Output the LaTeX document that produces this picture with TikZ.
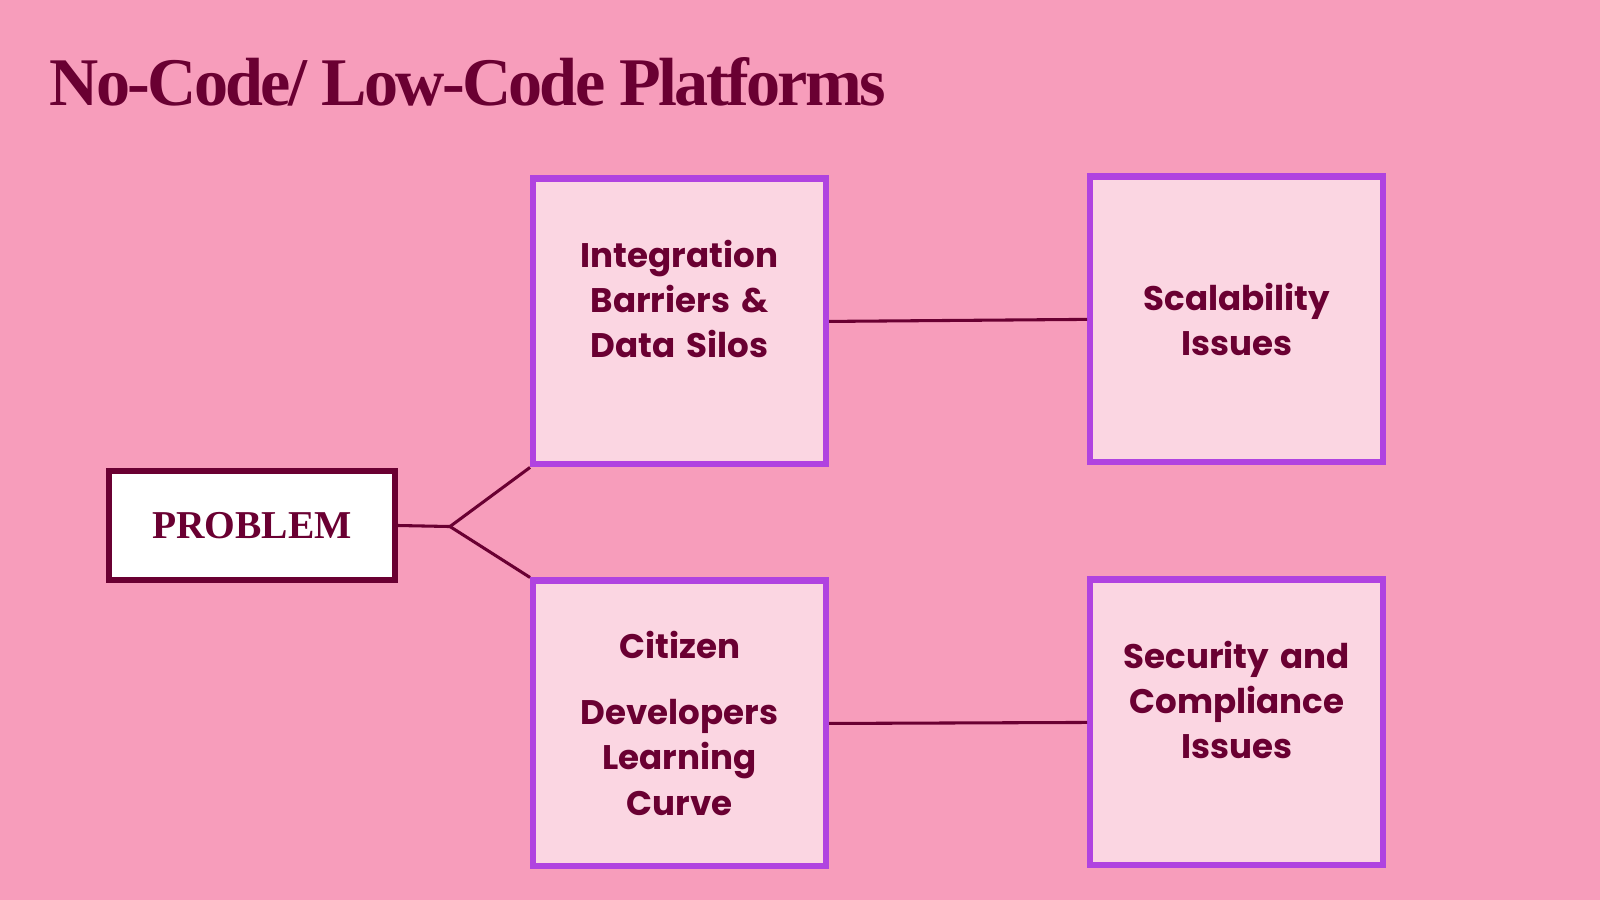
\documentclass[tikz,border=0pt]{standalone}
\usepackage{fontspec}
\setmainfont{Liberation Serif}
\newfontfamily\boxfont{Poppins}
\definecolor{bgpink}{HTML}{F79DBB}
\definecolor{wine}{HTML}{6A0032}
\definecolor{violet}{HTML}{B043E0}
\definecolor{palepink}{HTML}{FBD6E2}
\tikzset{
  issue/.style={draw=violet,line width=0.6mm,fill=palepink,minimum width=2.87cm,
    minimum height=2.8cm,inner sep=0pt,text width=2.7cm,align=center,
    font=\boxfont\bfseries\fontsize{9.5}{12.6}\selectfont,text=wine},
  link/.style={draw=wine,line width=0.3mm}
}
\begin{document}
\begin{tikzpicture}[x=0.01cm,y=-0.01cm]
  \fill[bgpink] (0,0) rectangle (1568,882);
  \node[anchor=base west,inner sep=0pt,text=wine,font=\bfseries\fontsize{19}{22}\selectfont]
    (title) at (48,103) {\addfontfeature{LetterSpace=-4}No-Code/ Low-Code Platforms};

  \node[draw=wine,line width=0.6mm,fill=white,minimum width=2.8cm,minimum height=1.07cm,
    text=wine,font=\bfseries\fontsize{11}{13}\selectfont] (problem) at (247,515) {PROBLEM};

  \node[issue] (integ) at (666,315) {Integration\\Barriers \&\\Data Silos\par\vspace{0.44cm}};
  \node[issue] (scale) at (1212,313) {Scalability\\Issues};
  \node[issue] (citizen) at (666,709) {\vspace*{0.2cm}Citizen\\Developers\\Learning\\Curve};
  \node[issue] (secur) at (1212,708) {Security and\\Compliance\\Issues\par\vspace{0.44cm}};

  \coordinate (fork) at (441,516);
  \draw[link] (problem.east) -- (fork);
  \draw[link] (fork) -- (integ.south west);
  \draw[link] (fork) -- (citizen.north west);
  \draw[link] (integ.east) -- (scale.west);
  \draw[link] (citizen.east) -- (secur.west);
\end{tikzpicture}
\end{document}
